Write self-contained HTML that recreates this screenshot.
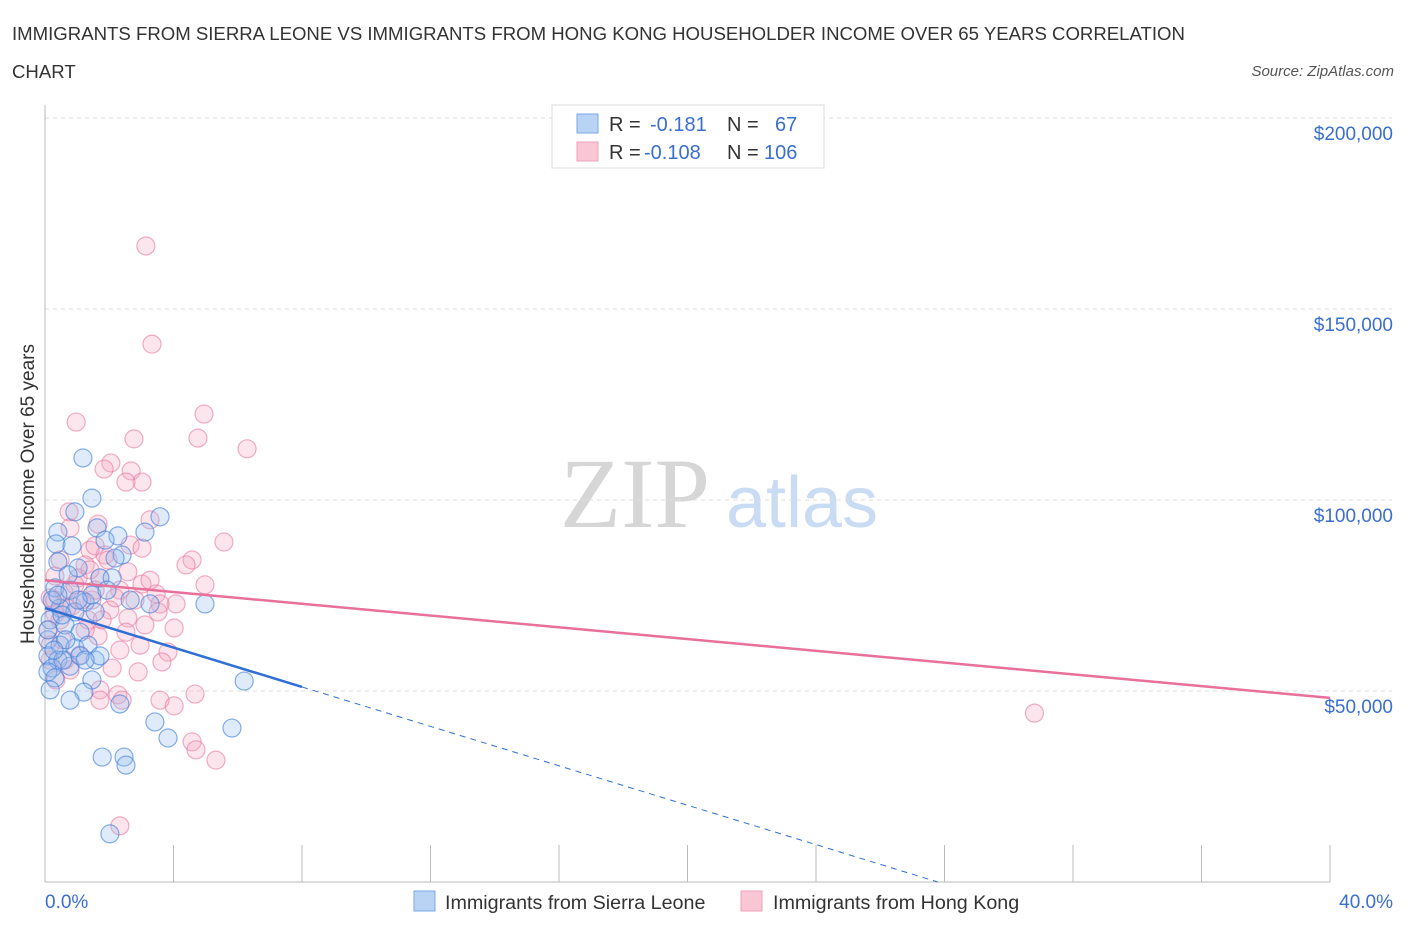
<!DOCTYPE html>
<html><head><meta charset="utf-8"><style>
body{margin:0;background:#fff;font-family:"Liberation Sans",sans-serif}
</style></head><body>
<svg width="1406" height="930" font-family="Liberation Sans, sans-serif">
<text x="12" y="40" font-size="18.6" fill="#333">IMMIGRANTS FROM SIERRA LEONE VS IMMIGRANTS FROM HONG KONG HOUSEHOLDER INCOME OVER 65 YEARS CORRELATION</text>
<text x="12" y="78" font-size="18.6" fill="#333">CHART</text>
<text x="1394" y="76" font-size="15" fill="#555" font-style="italic" text-anchor="end">Source: ZipAtlas.com</text>
<g>
<text x="635" y="527" font-size="100" fill="#d6d6d6" style="font-family:'Liberation Serif',serif" text-anchor="middle">ZIP</text>
<text x="802" y="527" font-size="72" fill="#c9dcf3" text-anchor="middle">atlas</text>
</g>
<g id="grid"></g>
<g id="axes"></g>
<g id="pts"></g>
<g id="trend"></g>
<g>
<rect x="552" y="105" width="272" height="63" fill="#fff" stroke="#ddd"/>
<rect x="577" y="114" width="21" height="19" fill="#b9d3f5" stroke="#7aa7e6"/>
<rect x="577" y="142" width="21" height="19" fill="#f9c6d6" stroke="#eea0ba"/>
<text x="609" y="131" font-size="20" fill="#333">R =</text>
<text x="650" y="131" font-size="20" fill="#3a6fcf">-0.181</text>
<text x="727" y="131" font-size="20" fill="#333">N =</text>
<text x="775" y="131" font-size="20" fill="#3a6fcf">67</text>
<text x="609" y="159" font-size="20" fill="#333">R =</text>
<text x="644" y="159" font-size="20" fill="#3a6fcf">-0.108</text>
<text x="727" y="159" font-size="20" fill="#333">N =</text>
<text x="764" y="159" font-size="20" fill="#3a6fcf">106</text>
</g>
<g>
<rect x="414" y="891" width="21" height="20" fill="#b9d3f5" stroke="#7aa7e6"/>
<text x="445" y="909" font-size="19.7" fill="#333">Immigrants from Sierra Leone</text>
<rect x="741" y="891" width="21" height="20" fill="#f9c6d6" stroke="#eea0ba"/>
<text x="773" y="909" font-size="19.7" fill="#333">Immigrants from Hong Kong</text>
</g>
<text transform="translate(34,494) rotate(-90)" font-size="19" fill="#333" text-anchor="middle">Householder Income Over 65 years</text>
</svg>
<script>
const yTicks=[50000,100000,150000,200000];
const yTickLabels=["$50,000","$100,000","$150,000","$200,000"];
const xTickLabels=["0.0%","40.0%"];
const blueX=[1.18,1.46,3.58,0.93,0.40,1.62,2.27,3.11,0.34,0.84,1.87,2.40,0.40,1.03,1.71,2.09,0.31,0.78,1.25,1.46,3.27,4.98,0.47,0.93,1.56,0.16,0.62,1.09,0.09,0.47,0.93,1.34,0.09,0.40,0.78,1.56,1.71,0.22,0.09,0.56,1.09,0.31,1.46,6.2,1.21,2.33,3.42,3.83,5.82,1.78,2.46,2.52,2.02,0.22,0.40,0.72,2.18,0.78,0.09,0.65,0.28,1.25,0.53,1.03,1.93,0.16,2.65];
const blueY=[111,100.5,95.6,96.9,91.6,92.7,90.6,91.6,88.5,88,89.5,85.6,83.8,82.2,79.6,79.6,77,76.4,73.3,75.1,72.8,72.8,71.7,70.7,70.7,68.6,67.3,65.4,63.4,62,61.3,62,59.2,58.1,56.5,58.1,59.2,56,55,58.1,59.2,53.4,52.9,52.6,49.7,46.6,41.9,37.7,40.3,32.7,32.7,30.6,12.6,73.8,75.1,80.4,84.8,47.6,66,63.4,60.7,58.1,69.9,73.8,76.4,50.3,73.8];
const pinkX=[3.14,3.33,4.95,0.97,2.77,4.76,6.29,2.05,1.84,2.68,3.02,2.52,0.75,3.27,1.65,0.78,5.57,2.65,3.02,1.40,1.87,0.47,1.25,4.58,4.39,2.58,1.03,0.31,1.71,4.98,3.02,2.33,0.59,3.46,0.16,1.46,4.08,3.58,0.84,2.02,3.52,0.31,2.58,1.34,4.02,0.09,1.65,2.52,0.53,2.96,2.33,3.83,1.09,0.16,2.09,2.90,3.64,0.78,0.34,1.71,2.27,2.40,4.67,3.58,4.02,1.71,4.58,4.70,5.32,2.33,30.8,1.56,1.15,0.47,0.93,1.96,2.18,0.16,0.62,1.25,2.80,3.11,0.31,1.40,0.68,1.78,3.27,1.56];
const pinkY=[166.5,140.8,122.5,120.4,116,116.2,113.4,109.7,108.1,107.6,104.7,104.7,96.9,94.8,93.7,92.7,89,88.2,87.4,86.9,85.6,84.3,83,84.3,83,81.2,79.6,80.1,79.6,77.8,78,76.4,75.9,75.4,74.4,73.8,72.8,72.8,72.3,71.2,70.7,70.2,69.1,68.6,66.5,66,64.4,65.4,63.4,62,60.7,60.2,59.4,58.1,56,55,57.6,55.5,52.9,50.3,49,47.6,49.2,47.6,46.1,47.6,36.7,34.6,31.9,14.7,44.2,76.4,73.8,68.6,77.8,84.3,74.4,62,58.1,66,73.8,67.3,73.8,81.7,71.7,68.6,79,88];
const blueTrend=[71.7,-2.58,8];
const pinkTrend=[79,-0.77];
const X=v=>45+v/40*1285, Y=v=>882-v/50000*191, Yk=v=>Y(v*1000);
const NS="http://www.w3.org/2000/svg";
function mk(t,p,a){const e=document.createElementNS(NS,t);for(const k in a)e.setAttribute(k,a[k]);p.appendChild(e);return e;}
const grid=document.getElementById('grid'),axes=document.getElementById('axes'),pts=document.getElementById('pts'),tr=document.getElementById('trend');
yTicks.forEach((t,i)=>{
 const l=mk('line',grid,{x1:45,x2:1392,y1:Y(t),y2:Y(t),stroke:'#ddd','stroke-dasharray':'4,4'});
 
 
 const tx=mk('text',axes,{x:1393,y:Y(t)+22,'font-size':19,fill:'#3a6fcf','text-anchor':'end'});
 tx.textContent=yTickLabels[i];
 
 
});
const yl=mk('line',axes,{x1:45,x2:45,y1:105,y2:882,stroke:'#bbb'});


const xl=mk('line',axes,{x1:45,x2:1330,y1:882,y2:882,stroke:'#bbb'});


for(let i=0;i<=10;i++){const tk=mk('line',axes,{x1:X(i*4),x2:X(i*4),y1:845,y2:882,stroke:'#bbb'});
 
 }
[[0,'start',45],[40,'end',1393]].forEach((d,i)=>{const tx=mk('text',axes,{x:d[2],y:908,'font-size':19,fill:'#3a6fcf','text-anchor':d[1]});tx.textContent=xTickLabels[i];
 
 });
pinkX.forEach((x,i)=>{const c=mk('circle',pts,{cx:X(x),cy:Yk(pinkY[i]),r:9,fill:'rgba(244,170,196,0.3)',stroke:'rgba(232,120,160,0.6)','stroke-width':1.2});
 
 });
blueX.forEach((x,i)=>{const c=mk('circle',pts,{cx:X(x),cy:Yk(blueY[i]),r:9,fill:'rgba(150,190,240,0.3)',stroke:'rgba(70,130,220,0.65)','stroke-width':1.2});
 
 });
const bz=-blueTrend[0]/blueTrend[1];
const b1=mk('line',tr,{x1:X(0),y1:Yk(blueTrend[0]),x2:X(blueTrend[2]),y2:Yk(blueTrend[0]+blueTrend[1]*blueTrend[2]),stroke:'#2f6fd6','stroke-width':2.5});


const b2=mk('line',tr,{x1:X(blueTrend[2]),y1:Yk(blueTrend[0]+blueTrend[1]*blueTrend[2]),x2:X(bz),y2:Yk(0),stroke:'#2f6fd6','stroke-width':1,'stroke-dasharray':'6,5'});


const p1=mk('line',tr,{x1:X(0),y1:Yk(pinkTrend[0]),x2:X(40),y2:Yk(pinkTrend[0]+pinkTrend[1]*40),stroke:'#e8709a','stroke-width':2.5});


</script>
</body></html>
